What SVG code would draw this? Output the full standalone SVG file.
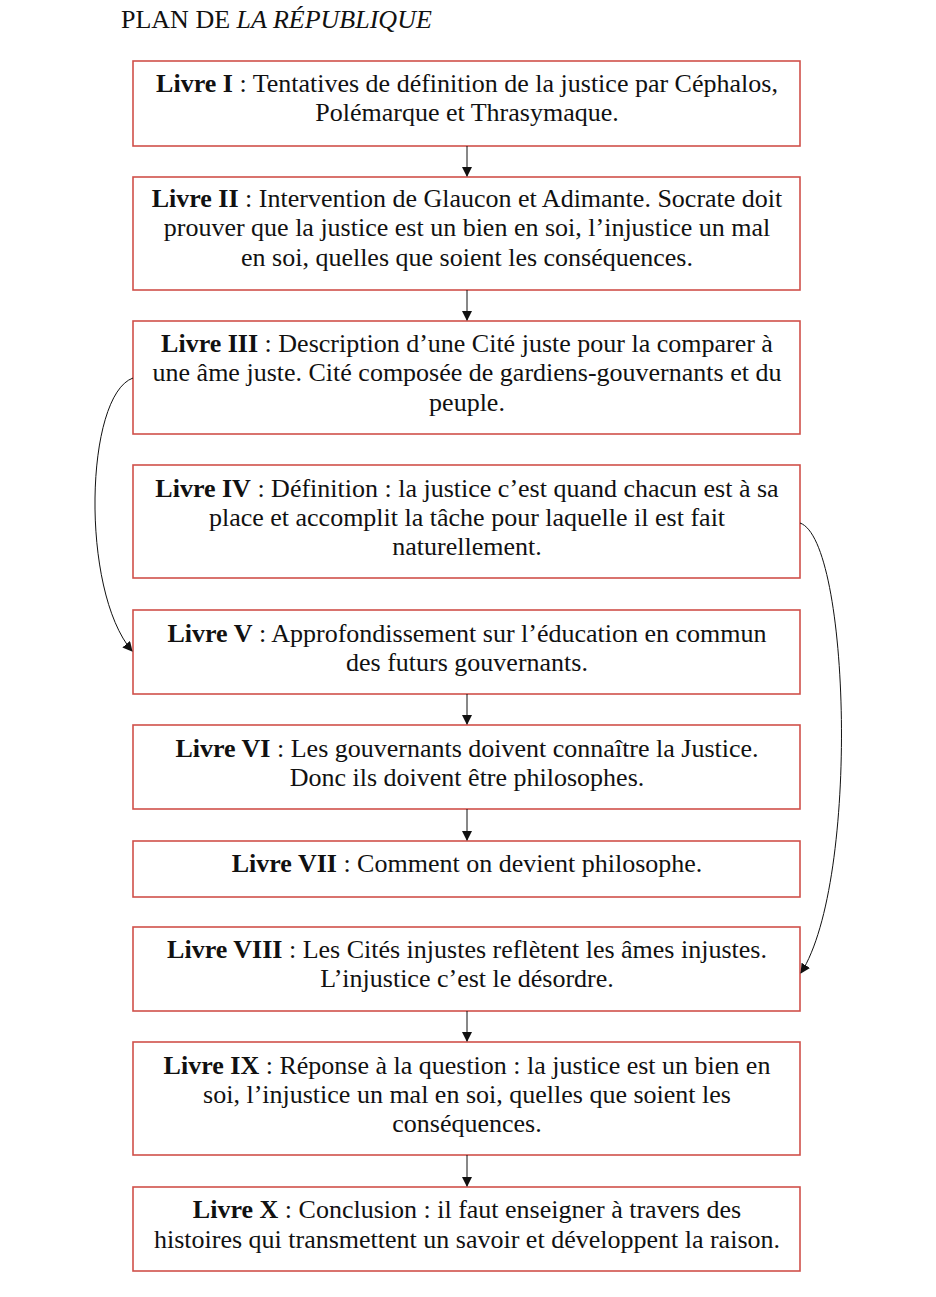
<svg xmlns="http://www.w3.org/2000/svg" width="936" height="1297" viewBox="0 0 936 1297">
<style>
.box{fill:#fff;stroke:#d0504a;stroke-width:1.6}
.t{font-family:"Liberation Serif","Times New Roman",serif;font-size:26px;fill:#111;text-anchor:middle}
.b{font-weight:bold}
.c{fill:none;stroke:#111;stroke-width:1}
</style>
<defs>
<marker id="ah" markerWidth="10" markerHeight="10" refX="9" refY="5" orient="auto" markerUnits="userSpaceOnUse"><path d="M0,0 L10,5 L0,10 z" fill="#111"/></marker>
</defs>
<rect width="936" height="1297" fill="#fff"/>
<text x="121" y="28" font-family="Liberation Serif, serif" font-size="26" fill="#111">PLAN DE <tspan font-style="italic">LA RÉPUBLIQUE</tspan></text>
<g id="livre1"><rect class="box" x="133" y="61" width="667" height="85"/>
<text class="t" x="467" y="92"><tspan class="b">Livre I</tspan> : Tentatives de définition de la justice par Céphalos,</text>
<text class="t" x="467" y="121">Polémarque et Thrasymaque.</text></g>
<g id="livre2"><rect class="box" x="133" y="177" width="667" height="113"/>
<text class="t" x="467" y="207"><tspan class="b">Livre II</tspan> : Intervention de Glaucon et Adimante. Socrate doit</text>
<text class="t" x="467" y="236">prouver que la justice est un bien en soi, l’injustice un mal</text>
<text class="t" x="467" y="266">en soi, quelles que soient les conséquences.</text></g>
<g id="livre3"><rect class="box" x="133" y="321" width="667" height="113"/>
<text class="t" x="467" y="352"><tspan class="b">Livre III</tspan> : Description d’une Cité juste pour la comparer à</text>
<text class="t" x="467" y="381">une âme juste. Cité composée de gardiens-gouvernants et du</text>
<text class="t" x="467" y="411">peuple.</text></g>
<g id="livre4"><rect class="box" x="133" y="465" width="667" height="113"/>
<text class="t" x="467" y="497"><tspan class="b">Livre IV</tspan> : Définition : la justice c’est quand chacun est à sa</text>
<text class="t" x="467" y="526">place et accomplit la tâche pour laquelle il est fait</text>
<text class="t" x="467" y="555">naturellement.</text></g>
<g id="livre5"><rect class="box" x="133" y="610" width="667" height="84"/>
<text class="t" x="467" y="642"><tspan class="b">Livre V</tspan> : Approfondissement sur l’éducation en commun</text>
<text class="t" x="467" y="671">des futurs gouvernants.</text></g>
<g id="livre6"><rect class="box" x="133" y="725" width="667" height="84"/>
<text class="t" x="467" y="757"><tspan class="b">Livre VI</tspan> : Les gouvernants doivent connaître la Justice.</text>
<text class="t" x="467" y="786">Donc ils doivent être philosophes.</text></g>
<g id="livre7"><rect class="box" x="133" y="841" width="667" height="56"/>
<text class="t" x="467" y="872"><tspan class="b">Livre VII</tspan> : Comment on devient philosophe.</text></g>
<g id="livre8"><rect class="box" x="133" y="927" width="667" height="84"/>
<text class="t" x="467" y="958"><tspan class="b">Livre VIII</tspan> : Les Cités injustes reflètent les âmes injustes.</text>
<text class="t" x="467" y="987">L’injustice c’est le désordre.</text></g>
<g id="livre9"><rect class="box" x="133" y="1042" width="667" height="113"/>
<text class="t" x="467" y="1074"><tspan class="b">Livre IX</tspan> : Réponse à la question : la justice est un bien en</text>
<text class="t" x="467" y="1103">soi, l’injustice un mal en soi, quelles que soient les</text>
<text class="t" x="467" y="1132">conséquences.</text></g>
<g id="livre10"><rect class="box" x="133" y="1187" width="667" height="84"/>
<text class="t" x="467" y="1218"><tspan class="b">Livre X</tspan> : Conclusion : il faut enseigner à travers des</text>
<text class="t" x="467" y="1248">histoires qui transmettent un savoir et développent la raison.</text></g>
<g id="connectors">
<line class="c" x1="467" y1="146" x2="467" y2="176" marker-end="url(#ah)"/>
<line class="c" x1="467" y1="290" x2="467" y2="320" marker-end="url(#ah)"/>
<line class="c" x1="467" y1="694" x2="467" y2="724" marker-end="url(#ah)"/>
<line class="c" x1="467" y1="809" x2="467" y2="840" marker-end="url(#ah)"/>
<line class="c" x1="467" y1="1011" x2="467" y2="1041" marker-end="url(#ah)"/>
<line class="c" x1="467" y1="1155" x2="467" y2="1186" marker-end="url(#ah)"/>
<path class="c" d="M133,378 C85,395 80,590 132,651" marker-end="url(#ah)"/>
<path class="c" d="M800,523 C850,540 860,880 801,973" marker-end="url(#ah)"/>
</g>
</svg>
